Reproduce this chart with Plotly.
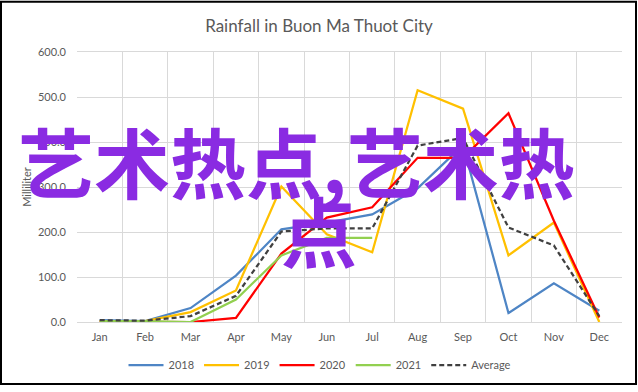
import plotly.graph_objects as go

months = ["Jan", "Feb", "Mar", "Apr", "May", "Jun", "Jul", "Aug", "Sep", "Oct", "Nov", "Dec"]
y2018 = [4, 2, 31, 103, 206, 221, 239, 297, 393, 20, 86, 25]
y2019 = [2, 2, 22, 70, 301, 195, 155, 515, 474, 148, 221, 0]
y2020 = [1, 0, 0, 9, 152, 232, 255, 365, 365, 464, 225, 10]
y2021 = [2, 2, 0, 50, 148, 187, 187, None, None, None, None, None]
avg = [4, 3, 13, 58, 201, 208, 208, 392, 409, 210, 170, 13]

series = [
    ("2018", y2018, "#4E85C5", "solid"),
    ("2019", y2019, "#FFC000", "solid"),
    ("2020", y2020, "#FF0000", "solid"),
    ("2021", y2021, "#92D050", "solid"),
    ("Average", avg, "#404040", "5px,3px"),
]

FONT = "Lato, 'Open Sans', sans-serif"
GRAY = "#595959"

fig = go.Figure()
for name, vals, color, dash in series:
    fig.add_trace(go.Scatter(
        x=months, y=vals, name=name, mode="lines",
        line=dict(color=color, width=2.25, dash=dash),
        connectgaps=False,
    ))

fig.update_layout(
    width=638, height=392,
    margin=dict(l=77, r=16, t=52, b=66),
    paper_bgcolor="white", plot_bgcolor="white",
    font=dict(family=FONT, size=11, color=GRAY),
    title=dict(text="Rainfall in Buon Ma Thuot City", x=0.5, xanchor="center",
               y=1 - 26 / 392, yanchor="middle", font=dict(size=17, color=GRAY, family=FONT)),
    showlegend=True,
    legend=dict(orientation="h", x=(320 - 77) / 545, xanchor="center", y=-0.16, yanchor="middle",
                font=dict(size=11, color=GRAY), itemwidth=35, bgcolor="rgba(0,0,0,0)"),
    xaxis=dict(type="category", range=[-0.5, 11.5], tickson="boundaries", showgrid=True,
               gridcolor="#D9D9D9", gridwidth=1, ticks="", showline=True, linecolor="#D9D9D9",
               mirror=True, tickfont=dict(size=11, color=GRAY), ticklabelstandoff=5,
               fixedrange=True),
    yaxis=dict(range=[0, 600], dtick=100, tickformat=".1f", showgrid=True, gridcolor="#D9D9D9",
               gridwidth=1, zeroline=False, showline=False, ticks="", ticklabelstandoff=10,
               title=dict(text="Milliliter", font=dict(size=11, color=GRAY), standoff=4),
               tickfont=dict(size=11, color=GRAY)),
)

# watermark text overlay
PURPLE = "#8A2BE2"
fig.add_annotation(text="艺术热点,艺术热", xref="paper", yref="paper", x=(296 - 77) / 545,
                   y=(326 - 162) / 274, xanchor="center", yanchor="middle", showarrow=False,
                   font=dict(family="Noto Sans CJK SC", size=76, color=PURPLE, weight="bold"))
fig.add_annotation(text="点", xref="paper", yref="paper", x=(319 - 77) / 545,
                   y=(326 - 232) / 274, xanchor="center", yanchor="middle", showarrow=False,
                   font=dict(family="Noto Sans CJK SC", size=76, color=PURPLE, weight="bold"))

# outer frame
fig.add_shape(type="rect", xref="paper", yref="paper",
              x0=(1 - 77) / 545, x1=(636 - 77) / 545,
              y0=(326 - 389) / 274, y1=(326 - 1) / 274,
              line=dict(color="black", width=2), fillcolor="rgba(0,0,0,0)", layer="above")

fig.write_html("out.html", config={"displayModeBar": False},
               post_script="document.body.style.margin='0';")
